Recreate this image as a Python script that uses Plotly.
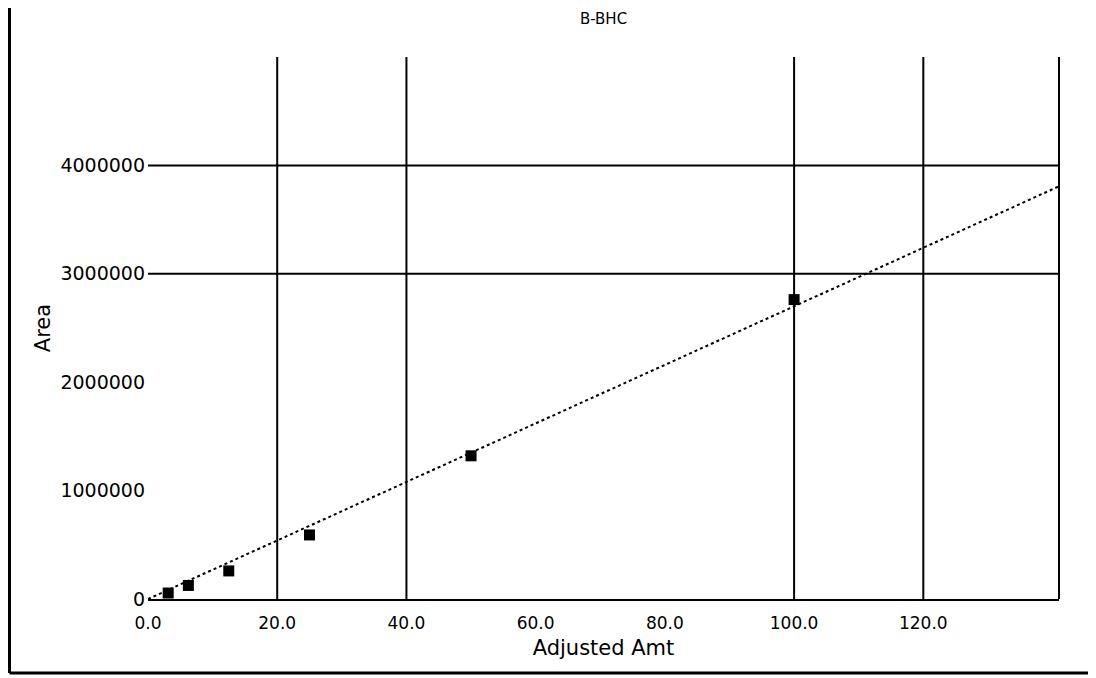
import plotly.graph_objects as go

# Data
adjusted_amt = [3.125, 6.25, 12.5, 25.0, 50.0, 100.0]
area = [55000, 125000, 259000, 591000, 1321000, 2762000]

# Calibration fit (through origin)
fit_slope = 27000.0
fit_intercept = 0.0
fit_x = [0.0, 141.0]
fit_y = [fit_intercept + fit_slope * v for v in fit_x]

x_tickvals = [0, 20, 40, 60, 80, 100, 120]
x_ticktext = ["0.0", "20.0", "40.0", "60.0", "80.0", "100.0", "120.0"]
y_tickvals = [0, 1000000, 2000000, 3000000, 4000000]
y_ticktext = ["0", "1000000", "2000000", "3000000", "4000000"]

x_grid = [20, 40, 100, 120]
y_grid = [3000000, 4000000]

x_range = [0, 141]
y_range = [0, 5000000]

FONT = "DejaVu Sans"

# page has an 8px body margin: figure is drawn at (8, 8)
W, H = 1088, 670
ML, MR, MT, MB = 140, 37, 49, 79
PW = W - ML - MR
PH = H - MT - MB

def px_to_paper_x(px):
    return (px - 8 - ML) / PW

def px_to_paper_y(py):
    return (H - MB - (py - 8)) / PH

fig = go.Figure()
fig.add_trace(go.Scatter(
    x=fit_x, y=fit_y, mode="lines",
    line=dict(color="black", width=2, dash="dot"),
    showlegend=False, hoverinfo="skip"))
fig.add_trace(go.Scatter(
    x=adjusted_amt, y=area, mode="markers",
    marker=dict(symbol="square", size=11, color="black"),
    showlegend=False))

shapes = []
for gx in x_grid:
    shapes.append(dict(type="line", xref="x", yref="paper", x0=gx, x1=gx, y0=0, y1=1,
                       line=dict(color="black", width=2), layer="below"))
for gy in y_grid:
    shapes.append(dict(type="line", xref="paper", yref="y", x0=0, x1=1, y0=gy, y1=gy,
                       line=dict(color="black", width=2), layer="below"))
# right frame line
shapes.append(dict(type="line", xref="paper", yref="paper", x0=1, x1=1, y0=0, y1=1,
                   line=dict(color="black", width=2)))
# outer left and bottom border of the picture
bx = px_to_paper_x(9.5)
by = px_to_paper_y(673)
shapes.append(dict(type="line", xref="paper", yref="paper", x0=bx, x1=bx, y0=by, y1=px_to_paper_y(-5),
                   line=dict(color="black", width=3)))
shapes.append(dict(type="line", xref="paper", yref="paper", x0=bx, x1=px_to_paper_x(1100), y0=by, y1=by,
                   line=dict(color="black", width=3)))

fig.update_layout(
    width=W, height=H,
    margin=dict(l=ML, r=MR, t=MT, b=MB),
    paper_bgcolor="white", plot_bgcolor="white",
    font=dict(family=FONT, color="black", size=18),
    title=dict(text="B-BHC", x=0.5, xref="paper", xanchor="center",
               y=1 - 11 / H, yref="container", yanchor="middle",
               font=dict(family=FONT, size=15, color="black")),
    shapes=shapes,
)
fig.update_xaxes(
    range=x_range, tickvals=x_tickvals, ticktext=x_ticktext,
    showgrid=False, zeroline=False, showline=True, linecolor="black", linewidth=2,
    ticks="", ticklabelstandoff=8,
    tickfont=dict(family=FONT, size=17),
    title=dict(text="Adjusted Amt", font=dict(family=FONT, size=21), standoff=8),
)
fig.update_yaxes(
    range=y_range, tickvals=y_tickvals, ticktext=y_ticktext,
    showgrid=False, zeroline=False, showline=False,
    ticks="", ticklabelstandoff=2,
    tickfont=dict(family=FONT, size=19),
    title=dict(text="Area", font=dict(family=FONT, size=21), standoff=4),
)

fig.write_html("out.html")
